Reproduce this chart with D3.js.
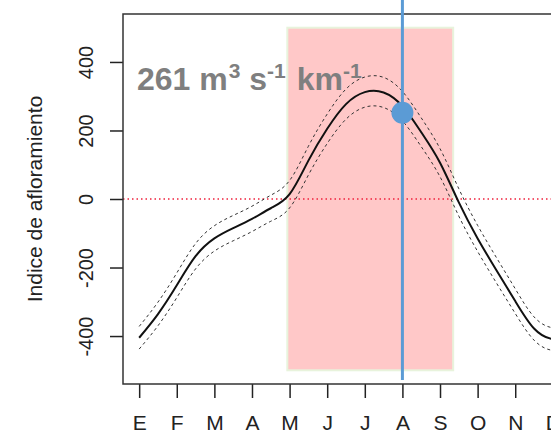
<!DOCTYPE html>
<html>
<head>
<meta charset="utf-8">
<script src="https://cdn.jsdelivr.net/npm/d3@7"></script>
<style>
  body { margin: 0; background: #fff; }
  svg { display: block; font-family: "Liberation Sans", Arial, sans-serif; }
</style>
</head>
<body>
<svg id="chart" width="551" height="435"></svg>
<script>
// month labels (Spanish initials) and positions
const months = ["E", "F", "M", "A", "M", "J", "J", "A", "S", "O", "N", "D"];
const monthPos = [1, 2, 3, 4, 5, 6, 7, 8, 9, 10, 11, 12];
const yTicks = [-400, -200, 0, 200, 400];

// upwelling index (half-month steps)
const t = [1, 1.5, 2, 2.5, 3, 3.5, 4, 4.5, 5, 5.5, 6, 6.5, 7, 7.5, 8, 8.5, 9, 9.5, 10, 10.5, 11, 11.5, 12, 12.5];
const fit = [-405, -336, -252, -167, -115, -85, -58, -27, 14, 112, 205, 277, 312, 311, 271, 195, 106, -10, -115, -208, -298, -378, -409, -405];
const upper = [-372, -301, -216, -130, -78, -48, -21, 11, 54, 154, 248, 321, 356, 355, 314, 237, 147, 30, -77, -171, -262, -344, -376, -372];
const lower = [-438, -370, -288, -204, -152, -122, -95, -65, -26, 70, 162, 233, 268, 267, 228, 153, 65, -50, -153, -245, -334, -412, -442, -438];

// upwelling season box and the marked date
const season = [4.94, 9.35];
const seasonRange = [-500, 500];
const marker = { t: 8, value: 252 };

const svg = d3.select("#chart");
const plotLeft = 123, plotTop = 14, plotBottom = 384;

const x = d3.scaleLinear().domain([0.57, 12.43]).range([plotLeft, 569]);
const y = d3.scaleLinear().domain([-540, 540]).range([plotBottom, plotTop]);

// season rectangle
svg.append("rect")
    .attr("x", x(season[0]))
    .attr("y", y(seasonRange[1]))
    .attr("width", x(season[1]) - x(season[0]))
    .attr("height", y(seasonRange[0]) - y(seasonRange[1]))
    .attr("fill", "#ffc8c8")
    .attr("stroke", "#e8f3dc")
    .attr("stroke-width", 2);

// zero line
svg.append("line")
    .attr("x1", plotLeft).attr("x2", 551)
    .attr("y1", y(0)).attr("y2", y(0))
    .attr("stroke", "#f0203c")
    .attr("stroke-width", 1.5)
    .attr("stroke-dasharray", "1.5,3");

const line = d3.line()
    .x(d => x(d[0]))
    .y(d => y(d[1]))
    .curve(d3.curveNatural);

[upper, lower].forEach(band => {
    svg.append("path")
        .attr("d", line(d3.zip(t, band)))
        .attr("fill", "none")
        .attr("stroke", "#333")
        .attr("stroke-width", 1)
        .attr("stroke-dasharray", "3,3");
});

svg.append("path")
    .attr("d", line(d3.zip(t, fit)))
    .attr("fill", "none")
    .attr("stroke", "#111")
    .attr("stroke-width", 2);

// axes
const yAxis = svg.append("g")
    .attr("transform", `translate(${plotLeft},0)`)
    .call(d3.axisLeft(y).tickValues(yTicks).tickSize(13).tickFormat(d => String(d)));
yAxis.select(".domain").remove();
yAxis.selectAll("line").attr("stroke", "#222").attr("stroke-width", 1.5);
yAxis.selectAll("text")
    .attr("x", null).attr("dy", null)
    .attr("transform", "translate(-30,0) rotate(-90)")
    .attr("text-anchor", "middle")
    .attr("fill", "#222")
    .style("font-size", "20px");

const xAxis = svg.append("g")
    .attr("transform", `translate(0,${plotBottom})`)
    .call(d3.axisBottom(x).tickValues(monthPos).tickSize(14).tickPadding(17)
        .tickFormat(d => months[d - 1]));
xAxis.select(".domain").remove();
xAxis.selectAll("line").attr("stroke", "#222").attr("stroke-width", 1.5);
xAxis.selectAll("text").attr("fill", "#222").style("font-size", "21px");

svg.append("text")
    .attr("transform", "translate(42,199) rotate(-90)")
    .attr("text-anchor", "middle")
    .attr("fill", "#222")
    .style("font-size", "21px")
    .text("Indice de afloramiento");

// plot box
svg.append("path")
    .attr("d", `M560,${plotTop}H${plotLeft}V${plotBottom}H560`)
    .attr("fill", "none")
    .attr("stroke", "#333")
    .attr("stroke-width", 1.5);

// label
const lab = svg.append("text")
    .attr("x", 137).attr("y", 90)
    .attr("fill", "#7f7f7f")
    .attr("font-weight", "bold")
    .style("font-size", "32px");
lab.append("tspan").text("261 m");
lab.append("tspan").attr("dy", -12).attr("dx", 1).style("font-size", "21px").text("3");
lab.append("tspan").attr("dy", 12).text(" s");
lab.append("tspan").attr("dy", -12).style("font-size", "21px").text("-1");
lab.append("tspan").attr("dy", 12).attr("dx", 2).text(" km");
lab.append("tspan").attr("dy", -12).style("font-size", "21px").text("-1");

// marked date
svg.append("line")
    .attr("x1", x(marker.t)).attr("x2", x(marker.t))
    .attr("y1", 0).attr("y2", 380)
    .attr("stroke", "#5b9bd5")
    .attr("stroke-width", 3);
svg.append("circle")
    .attr("cx", x(marker.t)).attr("cy", y(marker.value))
    .attr("r", 11)
    .attr("fill", "#5b9bd5");
</script>
</body>
</html>
